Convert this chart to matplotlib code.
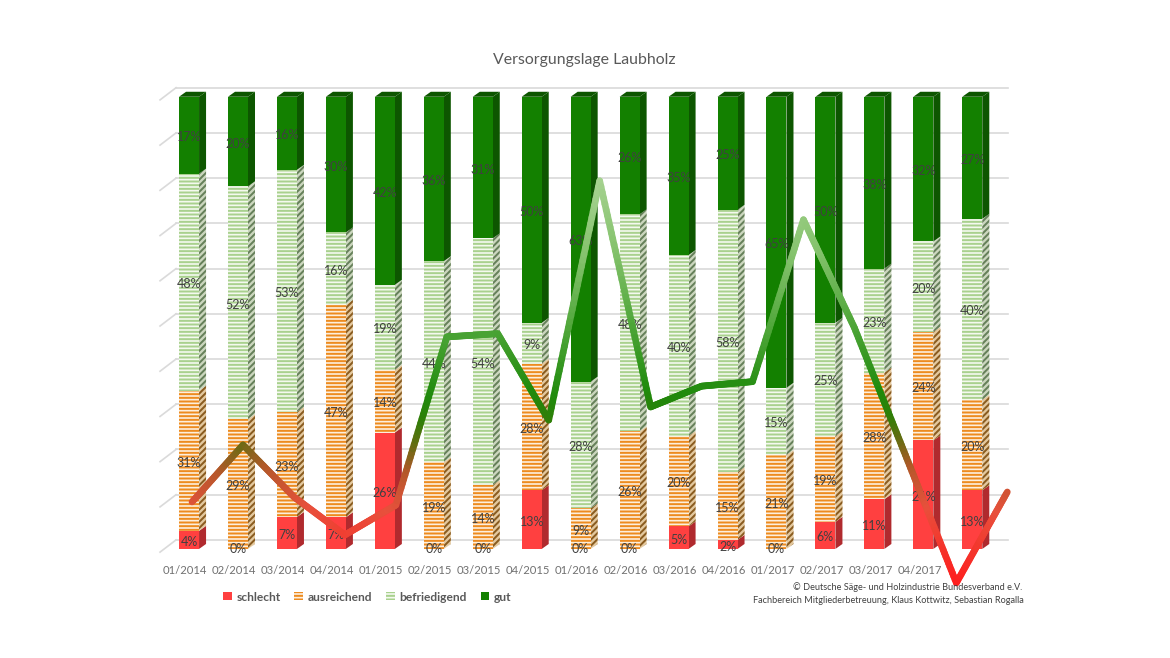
import numpy as np
import matplotlib
matplotlib.use('Agg')
import matplotlib.pyplot as plt
from matplotlib.collections import LineCollection
from matplotlib.colors import LinearSegmentedColormap, Normalize
from matplotlib.patches import Patch

months = ['01/2014', '02/2014', '03/2014', '04/2014', '01/2015', '02/2015', '03/2015', '04/2015',
          '01/2016', '02/2016', '03/2016', '04/2016', '01/2017', '02/2017', '03/2017', '04/2017']
schlecht = [4, 0, 7, 7, 26, 0, 0, 13, 0, 0, 5, 2, 0, 6, 11, 24, 13]
ausreichend = [31, 29, 23, 47, 14, 19, 14, 28, 9, 26, 20, 15, 21, 19, 28, 24, 20]
befriedigend = [48, 52, 53, 16, 19, 44, 54, 9, 28, 48, 40, 58, 15, 25, 23, 20, 40]
gut = [17, 20, 16, 30, 42, 36, 31, 50, 63, 26, 35, 25, 65, 50, 38, 32, 27]
trend = [10.4, 23, 11.5, 3.1, 9.7, 46.9, 47.6, 28.5, 81.4, 31.4, 36, 37, 72.8, 48.9, 20.8, -7.5, 12.6]

plt.rcParams['font.family'] = ['Lato', 'DejaVu Sans']
plt.rcParams['hatch.linewidth'] = 1.3

W, H, DPI = 1170, 658, 110
fig = plt.figure(figsize=((W + 0.3) / DPI, (H + 0.3) / DPI), dpi=DPI, facecolor='white')

# pixel layout of the plot area
ax = fig.add_axes([160 / W, 1 - 549 / H, 850 / W, (549 - 80) / H])
step = 48.94
ax.set_xlim((160 - 189) / step, (1010 - 189) / step)
ax.set_ylim(0, (549 - 80) / 4.52)
for s in ax.spines.values():
    s.set_visible(False)
ax.set_yticks([])
ax.patch.set_alpha(0)

width = 20 / step
dx = 7 / step
dy = 1.1
x = np.arange(len(gut))

# back wall grid
grid_col = '#DADADA'
wall_x = (176 - 189) / step
left_x = (160 - 189) / step
for t in range(0, 101, 10):
    ax.plot([wall_x, (1008 - 189) / step], [t + 2, t + 2], color=grid_col, lw=1.1, zorder=1)
    ax.plot([left_x, wall_x], [t - 0.7, t + 2], color=grid_col, lw=1.1, zorder=1, clip_on=False)

styles = [
    ('schlecht', schlecht, '#FF4040', '#FF4040', None, '#B02A2E', '#B02A2E', None),
    ('ausreichend', ausreichend, '#FDEFDD', '#ED8B1F', '-----', '#E3C89E', '#8A5C20', '//////'),
    ('befriedigend', befriedigend, '#F4F9EF', '#A9D18E', '-----', '#CBD6BE', '#66805A', '//////'),
    ('gut', gut, '#138000', '#138000', None, '#0D5600', '#0D5600', None),
]

totals = np.sum([schlecht, ausreichend, befriedigend, gut], axis=0)
bottom = np.zeros(len(x))
handles = []
for name, vals, face, edge, hatch, side_face, side_edge, side_hatch in styles:
    vals = np.array(vals)
    h = vals / totals * 100
    ax.bar(x, h, width=width, bottom=bottom, color=face, edgecolor=edge, hatch=hatch, linewidth=0, zorder=3)
    for i in x:
        if vals[i] == 0:
            # an empty schlecht segment still gets its label on the floor
            if name == 'schlecht':
                ax.text(i, 0, '0%', ha='center', va='center', fontsize=8.2, color='#404040', zorder=4, clip_on=False)
            continue
        r = i + width / 2
        ax.fill([r, r + dx, r + dx, r], [bottom[i], bottom[i] + dy, bottom[i] + h[i] + dy, bottom[i] + h[i]],
                facecolor=side_face, edgecolor=side_edge, hatch=side_hatch, linewidth=0, zorder=2.9)
        ax.text(i, bottom[i] + h[i] / 2 - 0.4, f'{vals[i]}%', ha='center', va='center', fontsize=8.2,
                color='#404040', zorder=4)
    handles.append(Patch(facecolor=face, edgecolor=edge, hatch=hatch, linewidth=0, label=name))
    bottom += h

# top faces of the columns
for i in x:
    l, r = i - width / 2, i + width / 2
    ax.fill([l, r, r + dx, l + dx], [100, 100, 100 + dy, 100 + dy], color='#0D5600', linewidth=0, zorder=2.9)

ax.set_xticks(x[:len(months)] - 0.08, months, fontsize=7.4, color='#707070')
ax.tick_params(axis='x', length=0, pad=10)

# trend line sits on its own x scale, coloured by height
ax2 = ax.twiny()
ax2.set_xlim((160 - 192) / 50.94, (1010 - 192) / 50.94)
ax2.set_xticks([])
for s in ax2.spines.values():
    s.set_visible(False)
xs = []
ys = []
for a in range(len(trend) - 1):
    xs.extend(np.linspace(a, a + 1, 40))
    ys.extend(np.linspace(trend[a], trend[a + 1], 40))
pts = np.column_stack([xs, ys]).reshape(-1, 1, 2)
segs = np.concatenate([pts[:-1], pts[1:]], axis=1)
cmap = LinearSegmentedColormap.from_list('trend', [
    (0.00, '#FF1E1E'), (0.18, '#E8503C'), (0.28, '#B5582A'), (0.34, '#6E6A14'),
    (0.41, '#2F7F08'), (0.47, '#1F8A0C'), (0.65, '#52A83C'), (0.82, '#84C26C'), (1.00, '#A6D290')])
lc = LineCollection(segs, cmap=cmap, norm=Normalize(-7.5, 81.4), linewidths=4.4, capstyle='round', zorder=5, clip_on=False)
lc.set_array((np.array(ys[:-1]) + np.array(ys[1:])) / 2)
ax2.add_collection(lc)

fig.text(584 / W, 1 - 60 / H, 'Versorgungslage Laubholz', ha='center', va='center', fontsize=10.4, color='#595959')

fig.legend(handles=handles, loc='center left', bbox_to_anchor=(223 / W, 1 - 597 / H), ncol=4, frameon=False,
           labelcolor='#595959', prop={'weight': 'bold', 'size': 7.9}, handlelength=0.7, handleheight=0.7,
           handletextpad=0.4, columnspacing=1.15, borderpad=0, borderaxespad=0)

fig.text(1022 / W, 1 - 587 / H, '© Deutsche Säge- und Holzindustrie Bundesverband e.V.', ha='right', va='center',
         fontsize=5.95, color='#404040')
fig.text(1023 / W, 1 - 600 / H, 'Fachbereich Mitgliederbetreuung, Klaus Kottwitz, Sebastian Rogalla', ha='right', va='center',
         fontsize=5.95, color='#404040')

fig.savefig('out.png', dpi=DPI, facecolor='white')
